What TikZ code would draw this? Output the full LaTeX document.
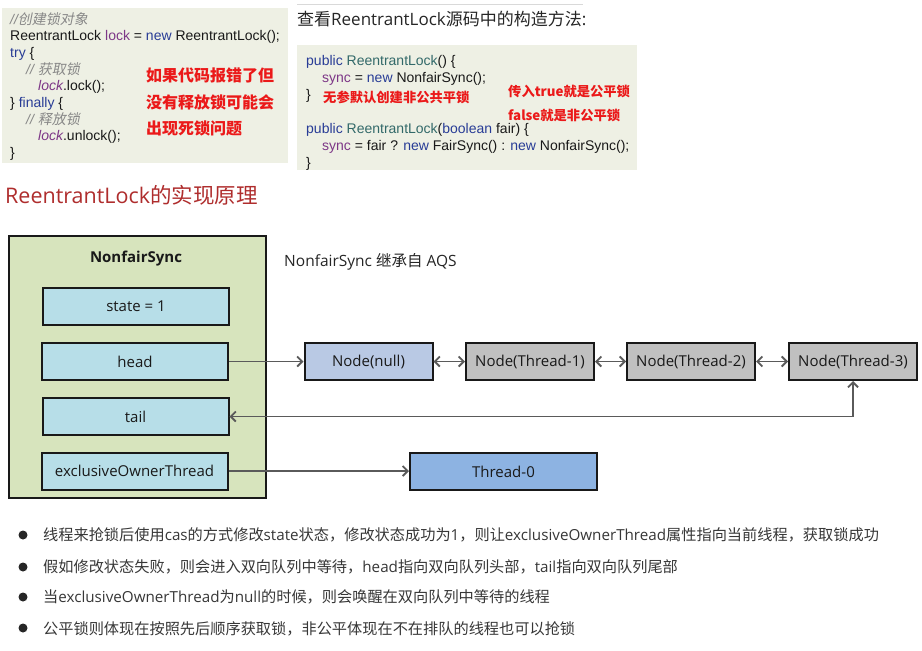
\documentclass[tikz,border=0pt]{standalone}
\usepackage{fontspec}
\setmainfont{Liberation Sans}
\newfontfamily\cjk{Noto Sans CJK SC}
\newfontfamily\cjkit{Noto Sans CJK SC}[FakeSlant=0.2]
\newfontfamily\lat{Open Sans}
\usetikzlibrary{arrows.meta}
\definecolor{codebg}{RGB}{238,240,228}
\definecolor{kwblue}{RGB}{40,60,150}
\definecolor{clsteal}{RGB}{50,105,105}
\definecolor{varpurple}{RGB}{125,55,135}
\definecolor{cmtgray}{RGB}{135,135,135}
\definecolor{codeblack}{RGB}{25,25,25}
\definecolor{redtxt}{RGB}{235,25,25}
\definecolor{titlered}{RGB}{175,45,45}
\definecolor{greenbox}{RGB}{215,228,189}
\definecolor{cyanbox}{RGB}{183,222,232}
\definecolor{nullbox}{RGB}{185,201,228}
\definecolor{graybox}{RGB}{192,192,192}
\definecolor{threadbox}{RGB}{141,179,226}
\definecolor{arrgray}{RGB}{90,90,90}
\definecolor{bodytxt}{RGB}{55,55,55}
\definecolor{edge}{RGB}{25,25,25}
\newcommand\ckw[1]{\textcolor{kwblue}{#1}}
\newcommand\cvar[1]{\textcolor{varpurple}{#1}}
\newcommand\ccls[1]{\textcolor{clsteal}{#1}}
\newcommand\ccmt[2]{\textcolor{cmtgray}{\itshape #1{\cjkit #2}}}
\newcommand\ltn[1]{{\lat #1}}
\begin{document}
\begin{tikzpicture}[x=1pt,y=-1pt,
  codebox/.style={fill=codebg, draw=none, inner sep=0},
  codeline/.style={anchor=base west, inner sep=0, text=codeblack, font=\fontsize{14}{17}\selectfont},
  redline/.style={anchor=base west, inner sep=0, text=redtxt, font=\cjk\bfseries\fontsize{16}{19}\selectfont},
  redsmall/.style={anchor=base west, inner sep=0, text=redtxt, font=\cjk\bfseries\fontsize{13.3}{16}\selectfont},
  field/.style={draw=edge, line width=2, fill=cyanbox, minimum width=186, minimum height=37, inner sep=0, text=codeblack, font=\lat\fontsize{15}{18}\selectfont},
  qnode/.style={draw=edge, line width=2, fill=graybox, minimum width=128, minimum height=37, inner sep=0, text=codeblack, font=\lat\fontsize{15}{18}\selectfont},
  arrow/.style={draw=arrgray, line width=1.8, -{Straight Barb[length=5pt,width=10pt]}},
  darrow/.style={draw=arrgray, line width=1.8, {Straight Barb[length=5pt,width=10pt]}-{Straight Barb[length=5pt,width=10pt]}},
  bullet/.style={circle, fill=black!85, minimum size=9, inner sep=0},
  bodyline/.style={anchor=base west, inner sep=0, text=bodytxt, font=\cjk\fontsize{15.2}{18}\selectfont}
]
\useasboundingbox (0,0) rectangle (922,651);
\fill[white] (0,0) rectangle (922,651);

% ---------- code box 1 ----------
\node[codebox, minimum width=286, minimum height=155] (code1) at (145,85.5) {};
\node[codeline] (c1) at (10,24) {\ccmt{//}{创建锁对象}};
\node[codeline] (c2) at (10,40.7) {ReentrantLock \cvar{lock} = \ckw{new} ReentrantLock();};
\node[codeline] (c3) at (10,57.4) {\ckw{try} \{};
\node[codeline] (c4) at (26,74.1) {\ccmt{// }{获取锁}};
\node[codeline] (c5) at (38,90.8) {\cvar{\itshape lock}.lock();};
\node[codeline] (c6) at (10,107.5) {\} \ckw{finally} \{};
\node[codeline] (c7) at (26,124.2) {\ccmt{// }{释放锁}};
\node[codeline] (c8) at (38,140.9) {\cvar{\itshape lock}.unlock();};
\node[codeline] (c9) at (10,157.6) {\}};
\node[redline] (r1) at (146,81) {如果代码报错了但};
\node[redline] (r2) at (146,108.5) {没有释放锁可能会};
\node[redline] (r3) at (146,134.5) {出现死锁问题};

% ---------- right heading and code box 2 ----------
\draw[black!15, line width=0.8] (297,4) -- (583,4);
\node[anchor=base west, inner sep=0, text=black!85, font=\lat\fontsize{17}{20}\selectfont] (h2) at (297,25) {{\cjk 查看}ReentrantLock{\cjk 源码中的构造方法}:};
\node[codebox, minimum width=340, minimum height=125] (code2) at (467,107.5) {};
\node[codeline] (d1) at (306,65) {\ckw{public} \ccls{ReentrantLock}() \{};
\node[codeline] (d2) at (322,82) {\cvar{sync} = \ckw{new} NonfairSync();};
\node[codeline] (d3) at (306,99) {\}};
\node[redsmall] (d3r) at (323,102.5) {无参默认创建非公共平锁};
\node[redsmall] (tr1) at (508,96) {传入true就是公平锁};
\node[redsmall] (tr2) at (508,120) {false就是非公平锁};
\node[codeline] (d4) at (306,133) {\ckw{public} \ccls{ReentrantLock}(\ckw{boolean} fair) \{};
\node[codeline] (d5) at (322,150) {\cvar{sync} = fair ? \ckw{new} FairSync() : \ckw{new} NonfairSync();};
\node[codeline] (d6) at (306,167) {\}};

% ---------- title ----------
\node[anchor=base west, inner sep=0, text=titlered, font=\lat\fontsize{21.5}{25}\selectfont] (title) at (5,203) {ReentrantLock{\cjk 的实现原理}};

% ---------- NonfairSync ----------
\node[draw=edge, line width=2, fill=greenbox, minimum width=257, minimum height=262, inner sep=0] (sync) at (137.5,367) {};
\node[anchor=base, inner sep=0, text=codeblack, font=\lat\bfseries\fontsize{15}{18}\selectfont] (synclabel) at (136,262) {NonfairSync};
\node[field] (state) at (136,306.5) {state = 1};
\node[field] (head) at (135,361.5) {head};
\node[field] (tail) at (135.5,416.5) {tail};
\node[field] (excl) at (134.5,471) {exclusiveOwnerThread};

\node[anchor=base west, inner sep=0, text=black!85, font=\lat\fontsize{15.5}{18}\selectfont] (aqs) at (284,266) {NonfairSync {\cjk 继承自} AQS};

% ---------- queue ----------
\node[qnode, fill=nullbox] (n0) at (368.5,361.5) {Node(null)};
\node[qnode] (n1) at (530,361.5) {Node(Thread-1)};
\node[qnode] (n2) at (691,361.5) {Node(Thread-2)};
\node[qnode] (n3) at (853,361.5) {Node(Thread-3)};
\node[qnode, fill=threadbox, minimum width=187] (t0) at (503.5,471.5) {Thread-0};

\draw[arrow] (head.east) -- (n0.west);
\draw[darrow] (n0.east) -- (n1.west);
\draw[darrow] (n1.east) -- (n2.west);
\draw[darrow] (n2.east) -- (n3.west);
\coordinate (corner) at (n3.south |- tail.east);
\draw[darrow] (tail.east) -- (corner) -- (n3.south);
\draw[arrow] (excl.east) -- (excl.east -| t0.west);

% ---------- bullets ----------
\node[bullet] (b1) at (23,535) {};
\node[bullet] (b2) at (23,567) {};
\node[bullet] (b3) at (23,597) {};
\node[bullet] (b4) at (23,628) {};
\node[bodyline] (l1) at (43,540) {线程来抢锁后使用\ltn{cas}的方式修改\ltn{state}状态，修改状态成功为\ltn{1}，则让\ltn{exclusiveOwnerThread}属性指向当前线程，获取锁成功};
\node[bodyline] (l2) at (43,572) {假如修改状态失败，则会进入双向队列中等待，\ltn{head}指向双向队列头部，\ltn{tail}指向双向队列尾部};
\node[bodyline] (l3) at (43,602.5) {当\ltn{exclusiveOwnerThread}为\ltn{null}的时候，则会唤醒在双向队列中等待的线程};
\node[bodyline] (l4) at (43,634) {公平锁则体现在按照先后顺序获取锁，非公平体现在不在排队的线程也可以抢锁};
\end{tikzpicture}
\end{document}
